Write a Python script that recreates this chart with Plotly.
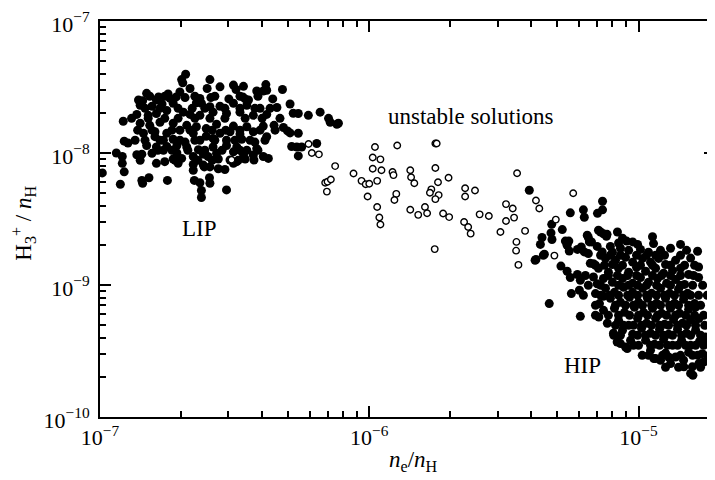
import plotly.graph_objects as go

# LIP (low ionization phase) solutions: n_e/n_H, H3+/n_H
lip_x = [2.08e-7, 2.01e-7, 2.03e-7, 2.56e-7, 4.13e-7, 3.13e-7, 3.41e-7, 2.79e-7, 2.16e-7, 2.50e-7,
         4.76e-7, 3.20e-7, 3.82e-7, 4.04e-7, 4.16e-7, 1.49e-7, 1.98e-7, 1.79e-7, 1.39e-7, 1.44e-7,
         1.65e-7, 1.62e-7, 1.82e-7, 1.92e-7, 2.07e-7, 2.35e-7, 2.58e-7, 3.01e-7, 3.39e-7, 3.46e-7,
         3.56e-7, 4.38e-7, 1.41e-7, 1.56e-7, 1.70e-7, 1.87e-7, 2.28e-7, 2.38e-7, 2.56e-7, 2.79e-7,
         3.13e-7, 3.51e-7, 3.93e-7, 4.54e-7, 5.08e-7, 5.22e-7, 5.45e-7, 5.94e-7, 6.57e-7, 1.37e-7,
         1.51e-7, 1.62e-7, 1.77e-7, 2.04e-7, 2.16e-7, 2.35e-7, 2.63e-7, 2.95e-7, 3.31e-7, 3.71e-7,
         4.16e-7, 7.06e-7, 7.16e-7, 7.58e-7, 7.68e-7, 1.22e-7, 1.41e-7, 1.53e-7, 1.67e-7, 1.87e-7,
         2.10e-7, 2.28e-7, 2.48e-7, 2.71e-7, 3.13e-7, 3.51e-7, 4.04e-7, 4.43e-7, 4.80e-7, 4.97e-7,
         5.08e-7, 1.45e-7, 1.60e-7, 1.77e-7, 1.98e-7, 2.22e-7, 2.48e-7, 2.79e-7, 3.04e-7, 3.31e-7,
         3.71e-7, 1.60e-7, 1.72e-7, 1.87e-7, 2.07e-7, 2.35e-7, 2.63e-7, 2.95e-7, 3.36e-7, 3.76e-7,
         4.16e-7, 1.23e-7, 1.27e-7, 1.35e-7, 1.49e-7, 1.62e-7, 1.77e-7, 1.93e-7, 2.10e-7, 2.32e-7,
         2.63e-7, 2.95e-7, 3.22e-7, 3.51e-7, 3.82e-7, 5.15e-7, 5.38e-7, 5.61e-7, 6.38e-7, 1.15e-7,
         1.37e-7, 1.43e-7, 1.56e-7, 1.72e-7, 1.93e-7, 2.42e-7, 2.71e-7, 3.13e-7, 3.41e-7, 3.71e-7,
         4.04e-7, 4.22e-7, 5.45e-7, 1.21e-7, 1.87e-7, 2.01e-7, 2.22e-7, 2.52e-7, 2.75e-7, 3.04e-7,
         3.46e-7, 3.73e-7, 1.21e-7, 1.62e-7, 1.74e-7, 1.95e-7, 2.22e-7, 2.42e-7, 2.56e-7, 2.75e-7,
         2.91e-7, 3.13e-7, 3.22e-7, 1.02e-7, 1.23e-7, 2.22e-7, 2.44e-7, 1.43e-7, 1.52e-7, 1.78e-7,
         2.24e-7, 2.35e-7, 2.55e-7, 2.56e-7, 1.19e-7, 1.44e-7, 2.38e-7, 2.95e-7, 2.38e-7, 5.45e-7]
lip_y = [3.95e-8, 3.6e-8, 3.4e-8, 3.6e-8, 3.3e-8, 3.27e-8, 3.2e-8, 3.17e-8, 3.08e-8, 3.08e-8,
         3.03e-8, 3.03e-8, 2.95e-8, 2.95e-8, 2.99e-8, 2.83e-8, 2.9e-8, 2.8e-8, 2.52e-8, 2.49e-8,
         2.66e-8, 2.52e-8, 2.59e-8, 2.66e-8, 2.63e-8, 2.59e-8, 2.63e-8, 2.57e-8, 2.66e-8, 2.57e-8,
         2.52e-8, 2.57e-8, 2.3e-8, 2.26e-8, 2.35e-8, 2.38e-8, 2.4e-8, 2.38e-8, 2.24e-8, 2.26e-8,
         2.38e-8, 2.3e-8, 2.18e-8, 2.21e-8, 2.35e-8, 2.0e-8, 1.99e-8, 1.93e-8, 2.04e-8, 1.96e-8,
         1.93e-8, 1.99e-8, 2.1e-8, 2.04e-8, 1.96e-8, 1.93e-8, 2.04e-8, 1.99e-8, 2.04e-8, 1.93e-8,
         1.96e-8, 1.83e-8, 1.71e-8, 1.65e-8, 1.68e-8, 1.74e-8, 1.68e-8, 1.62e-8, 1.71e-8, 1.68e-8,
         1.62e-8, 1.58e-8, 1.53e-8, 1.65e-8, 1.6e-8, 1.58e-8, 1.6e-8, 1.62e-8, 1.56e-8, 1.47e-8,
         1.42e-8, 1.41e-8, 1.45e-8, 1.41e-8, 1.49e-8, 1.41e-8, 1.34e-8, 1.41e-8, 1.45e-8, 1.39e-8,
         1.45e-8, 1.33e-8, 1.25e-8, 1.27e-8, 1.21e-8, 1.25e-8, 1.29e-8, 1.25e-8, 1.27e-8, 1.21e-8,
         1.33e-8, 1.23e-8, 1.19e-8, 1.25e-8, 1.14e-8, 1.11e-8, 1.12e-8, 1.14e-8, 1.11e-8, 1.06e-8,
         1.11e-8, 1.14e-8, 1.11e-8, 1.05e-8, 1.08e-8, 1.12e-8, 1.11e-8, 1.11e-8, 1.18e-8, 1.0e-8,
         9.7e-9, 9.8e-9, 9.95e-9, 1.05e-8, 1.0e-8, 9.8e-9, 9.95e-9, 1.02e-8, 9.8e-9, 9.65e-9,
         9.4e-9, 9.1e-9, 9.5e-9, 9.4e-9, 9.0e-9, 9.1e-9, 9.4e-9, 9.4e-9, 9.0e-9, 8.85e-9,
         9.0e-9, 8.85e-9, 8.35e-9, 8.35e-9, 8.6e-9, 8.35e-9, 8.2e-9, 8.1e-9, 7.85e-9, 7.6e-9,
         7.5e-9, 8.35e-9, 8.6e-9, 7.07e-9, 7.2e-9, 7.4e-9, 7.85e-9, 6.2e-9, 6.5e-9, 6.2e-9,
         6.2e-9, 5.95e-9, 6.5e-9, 5.9e-9, 5.8e-9, 5.9e-9, 5.2e-9, 5.25e-9, 4.6e-9, 1.41e-8]

# LIP dense core
lip_core_x = [1.53e-7, 1.74e-7, 2.25e-7, 2.67e-7, 3.31e-7, 3.86e-7,
              1.47e-7, 1.67e-7, 1.95e-7, 2.20e-7, 2.45e-7, 2.91e-7, 3.31e-7, 3.76e-7, 4.28e-7,
              1.31e-7, 1.51e-7, 1.74e-7, 1.95e-7, 2.25e-7, 2.56e-7, 2.91e-7, 3.46e-7, 4.00e-7, 4.66e-7,
              1.38e-7, 1.56e-7, 1.85e-7, 2.16e-7, 2.61e-7, 2.93e-7, 3.31e-7, 3.93e-7, 4.47e-7,
              1.47e-7, 1.67e-7, 1.98e-7, 2.25e-7, 2.67e-7, 3.17e-7, 3.61e-7, 4.10e-7,
              1.64e-7, 1.85e-7, 2.12e-7, 2.45e-7, 2.84e-7, 3.31e-7, 3.86e-7,
              1.41e-7, 1.90e-7, 2.31e-7, 2.61e-7, 3.26e-7]
lip_core_y = [2.69e-8] * 6 + [2.18e-8] * 9 + [1.83e-8] * 10 + [1.49e-8] * 9 + \
             [1.25e-8] * 8 + [1.05e-8] * 7 + [8.80e-9] * 5

# HIP (high ionization phase) solutions
hip_x = [3.93e-6, 5.58e-6, 6.24e-6, 7.04e-6, 7.35e-6, 7.35e-6, 6.29e-6, 4.76e-6, 5.21e-6, 4.73e-6,
         7.10e-6, 7.41e-6, 7.60e-6, 8.35e-6, 6.45e-6, 7.23e-6, 4.38e-6, 4.77e-6, 5.35e-6, 5.51e-6,
         6.57e-6, 9.03e-6, 9.51e-6, 1.127e-5, 1.137e-5, 1.432e-5, 8.43e-6, 9.92e-6, 4.32e-6, 7.02e-6,
         7.86e-6, 8.72e-6, 4.43e-6, 5.43e-6, 5.53e-6, 5.93e-6, 6.13e-6, 6.29e-6, 6.51e-6, 7.33e-6,
         8.0e-6, 8.57e-6, 9.19e-6, 1.017e-5, 1.089e-5, 1.207e-5, 1.315e-5, 1.508e-5, 1.657e-5, 4.47e-6,
         4.16e-6, 5.15e-6, 6.62e-6, 7.54e-6, 8.21e-6, 8.95e-6, 9.51e-6, 1.035e-5, 1.108e-5, 1.187e-5,
         1.26e-5, 1.373e-5, 1.561e-5, 8.0e-6, 5.43e-6, 5.93e-6, 7.10e-6, 7.73e-6, 8.43e-6, 9.19e-6,
         9.83e-6, 1.062e-5, 1.157e-5, 1.239e-5, 1.338e-5, 1.432e-5, 1.671e-5, 1.535e-5, 5.58e-6, 6.08e-6,
         6.80e-6, 7.02e-6, 7.41e-6, 8.0e-6, 8.72e-6, 9.51e-6, 1.017e-5, 1.089e-5, 1.177e-5, 1.271e-5,
         1.373e-5, 1.483e-5, 1.671e-5, 5.63e-6, 6.03e-6, 6.92e-6, 7.54e-6, 8.14e-6, 8.80e-6, 9.51e-6,
         1.035e-5, 1.118e-5, 1.207e-5, 1.304e-5, 1.408e-5, 1.521e-5, 1.671e-5, 1.80e-5, 4.66e-6, 7.16e-6,
         7.86e-6, 8.57e-6, 9.26e-6, 1.0e-5, 1.080e-5, 1.167e-5, 1.26e-5, 1.361e-5, 1.47e-5, 1.615e-5,
         7.41e-6, 7.41e-6, 8.14e-6, 8.87e-6, 9.66e-6, 1.044e-5, 1.127e-5, 1.218e-5, 1.315e-5, 1.42e-5,
         1.535e-5, 1.629e-5, 6.08e-6, 7.73e-6, 7.12e-6, 7.66e-6, 8.43e-6, 9.19e-6, 9.92e-6, 1.071e-5,
         1.157e-5, 1.249e-5, 1.349e-5, 1.457e-5, 1.561e-5, 1.675e-5, 1.76e-5, 8.07e-6, 8.72e-6, 9.51e-6,
         1.026e-5, 1.108e-5, 1.197e-5, 1.293e-5, 1.396e-5, 1.508e-5, 1.629e-5, 1.775e-5, 8.33e-6, 8.95e-6,
         1.0e-5, 1.062e-5, 1.147e-5, 1.239e-5, 1.338e-5, 1.445e-5, 1.561e-5, 1.686e-5, 1.82e-5, 1.88e-5,
         9.34e-6, 8.09e-6, 1.032e-5, 1.157e-5, 1.207e-5, 1.26e-5, 1.293e-5, 1.373e-5, 1.47e-5, 1.535e-5,
         1.657e-5, 1.745e-5, 1.108e-5, 9.08e-6, 1.584e-5, 1.592e-5, 1.561e-5, 1.474e-5, 1.675e-5, 1.80e-5,
         1.725e-5, 1.315e-5, 1.14e-5, 4.13e-6, 8.57e-6, 6.80e-6, 6.51e-6, 6.69e-6, 7.64e-6]
hip_y = [5.22e-9, 3.52e-9, 3.71e-9, 3.49e-9, 4.31e-9, 3.71e-9, 3.26e-9, 2.88e-9, 2.63e-9, 2.48e-9,
         2.60e-9, 2.44e-9, 2.34e-9, 2.52e-9, 2.38e-9, 2.52e-9, 2.29e-9, 2.21e-9, 2.15e-9, 2.15e-9,
         2.12e-9, 2.15e-9, 2.12e-9, 2.32e-9, 2.06e-9, 2.03e-9, 2.08e-9, 2.03e-9, 2.03e-9, 1.96e-9,
         1.96e-9, 2.26e-9, 1.68e-9, 2.0e-9, 1.81e-9, 1.86e-9, 1.94e-9, 1.78e-9, 1.73e-9, 1.78e-9,
         1.77e-9, 1.90e-9, 1.83e-9, 1.86e-9, 1.77e-9, 1.83e-9, 1.90e-9, 1.83e-9, 1.80e-9, 1.71e-9,
         1.56e-9, 1.39e-9, 1.46e-9, 1.59e-9, 1.54e-9, 1.62e-9, 1.49e-9, 1.59e-9, 1.49e-9, 1.59e-9,
         1.43e-9, 1.54e-9, 1.60e-9, 1.43e-9, 1.27e-9, 1.20e-9, 1.34e-9, 1.25e-9, 1.34e-9, 1.25e-9,
         1.36e-9, 1.27e-9, 1.34e-9, 1.23e-9, 1.29e-9, 1.34e-9, 1.37e-9, 1.20e-9, 1.14e-9, 1.085e-9,
         1.15e-9, 1.02e-9, 1.12e-9, 1.05e-9, 1.12e-9, 1.03e-9, 1.14e-9, 1.05e-9, 1.12e-9, 1.03e-9,
         1.10e-9, 1.01e-9, 1.14e-9, 8.61e-10, 9.12e-10, 8.61e-10, 9.44e-10, 8.80e-10, 9.61e-10, 8.80e-10,
         9.44e-10, 8.65e-10, 9.44e-10, 8.65e-10, 9.28e-10, 8.65e-10, 8.36e-10, 8.36e-10, 7.23e-10, 7.23e-10,
         7.93e-10, 7.40e-10, 8.07e-10, 7.40e-10, 7.93e-10, 7.27e-10, 7.93e-10, 7.27e-10, 7.79e-10, 7.23e-10,
         8.21e-10, 6.43e-10, 6.66e-10, 6.21e-10, 6.78e-10, 6.21e-10, 6.66e-10, 6.10e-10, 6.66e-10, 6.10e-10,
         6.54e-10, 6.81e-10, 5.79e-10, 5.89e-10, 5.72e-10, 5.13e-10, 5.40e-10, 4.95e-10, 5.59e-10, 5.13e-10,
         5.59e-10, 5.04e-10, 5.49e-10, 5.13e-10, 5.40e-10, 5.57e-10, 4.95e-10, 4.31e-10, 4.54e-10, 4.24e-10,
         4.70e-10, 4.31e-10, 4.62e-10, 4.24e-10, 4.62e-10, 4.31e-10, 4.54e-10, 4.04e-10, 3.70e-10, 3.39e-10,
         3.49e-10, 3.81e-10, 3.55e-10, 3.88e-10, 3.49e-10, 3.81e-10, 3.49e-10, 3.75e-10, 3.60e-10, 3.49e-10,
         3.81e-10, 4.16e-10, 2.93e-10, 2.77e-10, 2.69e-10, 3.05e-10, 2.85e-10, 2.85e-10, 2.69e-10, 3.09e-10,
         2.93e-10, 2.61e-10, 3.20e-10, 3.30e-10, 2.40e-10, 2.07e-10, 2.14e-10, 2.40e-10, 2.54e-10, 2.69e-10,
         3.02e-10, 2.54e-10, 2.77e-10, 1.54e-9, 3.60e-10, 1.45e-9, 2.29e-9, 2.12e-9, 2.42e-9]

# HIP dense core
hip_core_x = [7.23e-6, 7.86e-6, 8.57e-6, 9.83e-6, 1.071e-5, 1.157e-5, 1.249e-5, 1.432e-5,
              6.92e-6, 7.47e-6, 8.72e-6, 1.017e-5, 1.127e-5, 1.315e-5, 1.483e-5, 1.615e-5,
              6.35e-6, 7.73e-6, 8.35e-6, 9.11e-6, 9.83e-6, 1.127e-5, 1.218e-5, 1.315e-5, 1.432e-5, 1.601e-5,
              6.51e-6, 7.23e-6, 8.43e-6, 9.19e-6, 9.92e-6, 1.071e-5, 1.167e-5, 1.315e-5, 1.432e-5, 1.588e-5, 1.73e-5,
              6.24e-6, 7.23e-6, 7.80e-6, 8.43e-6, 9.11e-6, 9.92e-6, 1.071e-5, 1.167e-5, 1.249e-5, 1.361e-5, 1.47e-5, 1.561e-5,
              6.92e-6, 8.21e-6, 8.95e-6, 9.58e-6, 1.035e-5, 1.118e-5, 1.207e-5, 1.304e-5, 1.408e-5, 1.535e-5, 1.70e-5,
              6.92e-6, 8.43e-6, 9.26e-6, 1.0e-5, 1.080e-5, 1.177e-5, 1.271e-5, 1.373e-5, 1.496e-5, 1.615e-5, 1.745e-5,
              8.21e-6, 8.80e-6, 9.58e-6, 1.026e-5, 1.118e-5, 1.197e-5, 1.293e-5, 1.396e-5, 1.508e-5, 1.629e-5,
              8.57e-6, 9.92e-6, 1.062e-5, 1.157e-5, 1.239e-5, 1.338e-5, 1.445e-5, 1.561e-5, 1.70e-5,
              9.58e-6, 1.108e-5, 1.197e-5, 1.282e-5, 1.396e-5, 1.496e-5, 1.629e-5, 1.745e-5,
              1.089e-5, 1.228e-5, 1.432e-5, 1.588e-5, 1.82e-5,
              1.26e-5, 1.408e-5, 1.70e-5]
hip_core_y = [1.68e-9] * 8 + [1.41e-9] * 8 + [1.18e-9] * 10 + [9.95e-10] * 11 + \
             [8.36e-10] * 12 + [7.02e-10] * 11 + [5.90e-10] * 11 + [4.95e-10] * 10 + \
             [4.16e-10] * 9 + [3.49e-10] * 8 + [2.93e-10] * 5 + [2.38e-10] * 3

# Unstable solutions (open circles)
uns_x = [3.08e-7, 5.95e-7, 6.12e-7, 6.5e-7, 7.47e-7, 6.86e-7, 7.0e-7, 7.2e-7, 6.96e-7, 8.74e-7,
         9.36e-7, 9.7e-7, 1.0e-6, 9.86e-7, 1.05e-6, 1.03e-6, 1.10e-6, 1.03e-6, 1.11e-6, 1.07e-6,
         1.07e-6, 1.09e-6, 1.10e-6, 1.27e-6, 1.22e-6, 1.23e-6, 1.26e-6, 1.24e-6, 1.42e-6, 1.43e-6,
         1.47e-6, 1.42e-6, 1.52e-6, 1.61e-6, 1.64e-6, 1.76e-6, 1.78e-6, 1.76e-6, 1.80e-6, 1.70e-6,
         1.68e-6, 1.81e-6, 1.76e-6, 1.97e-6, 1.88e-6, 1.98e-6, 1.75e-6, 2.27e-6, 2.27e-6, 2.47e-6,
         2.25e-6, 2.33e-6, 2.38e-6, 2.57e-6, 2.78e-6, 3.54e-6, 3.22e-6, 3.41e-6, 3.45e-6, 3.22e-6,
         3.07e-6, 3.79e-6, 3.52e-6, 3.51e-6, 3.58e-6, 4.16e-6, 4.28e-6, 4.93e-6, 4.87e-6, 5.72e-6]
uns_y = [8.9e-9, 1.17e-8, 1.0e-8, 9.77e-9, 7.96e-9, 5.95e-9, 6.05e-9, 6.3e-9, 5.1e-9, 7.0e-9,
         6.15e-9, 5.8e-9, 5.85e-9, 4.68e-9, 1.11e-8, 9.25e-9, 8.95e-9, 7.6e-9, 7.4e-9, 6.15e-9,
         3.9e-9, 3.25e-9, 2.87e-9, 1.14e-8, 7.18e-9, 6.8e-9, 4.9e-9, 4.4e-9, 7.4e-9, 6.55e-9,
         5.9e-9, 3.72e-9, 3.4e-9, 3.9e-9, 3.5e-9, 1.18e-8, 1.18e-8, 7.7e-9, 6.0e-9, 5.3e-9,
         5.0e-9, 4.8e-9, 4.47e-9, 6.5e-9, 3.48e-9, 3.27e-9, 1.87e-9, 5.4e-9, 4.68e-9, 5.2e-9,
         3.0e-9, 2.75e-9, 2.45e-9, 3.43e-9, 3.33e-9, 7.03e-9, 4.1e-9, 3.8e-9, 3.24e-9, 3.05e-9,
         2.52e-9, 2.57e-9, 2.12e-9, 1.82e-9, 1.42e-9, 4.37e-9, 3.8e-9, 3.13e-9, 1.67e-9, 4.95e-9]

x_tickvals = [1e-7, 1e-6, 1e-5]
x_ticktext = ["10<sup>−7</sup>", "10<sup>−6</sup>", "10<sup>−5</sup>"]
y_tickvals = [1e-10, 1e-9, 1e-8, 1e-7]
y_ticktext = ["10<sup>−10</sup>", "10<sup>−9</sup>", "10<sup>−8</sup>", "10<sup>−7</sup>"]

FONT = "Liberation Serif"
XR = [-7, -4.716]
YR = [-10, -7]

fig = go.Figure()
fig.add_trace(go.Scatter(x=lip_x + lip_core_x, y=lip_y + lip_core_y, mode="markers",
                         marker=dict(size=9, color="black", line=dict(width=0)),
                         hoverinfo="skip"))
fig.add_trace(go.Scatter(x=hip_x + hip_core_x, y=hip_y + hip_core_y, mode="markers",
                         marker=dict(size=9, color="black", line=dict(width=0)),
                         hoverinfo="skip"))
fig.add_trace(go.Scatter(x=uns_x, y=uns_y, mode="markers",
                         marker=dict(size=6.5, color="white", line=dict(width=1.4, color="black")),
                         hoverinfo="skip"))

tickfont = dict(family=FONT, size=22, color="black")
minor = dict(ticks="inside", ticklen=6, tickwidth=2, tickcolor="#000000", dtick="D1",
             showgrid=False)
base = dict(type="log", showgrid=False, zeroline=False, ticks="inside", ticklen=11,
            tickwidth=2, tickcolor="#000000", tickmode="array", automargin=False,
            showline=True, linewidth=2, linecolor="#000000", mirror="ticks",
            tickfont=tickfont, minor=minor, layer="above traces",
            ticklabeloverflow="allow")

# The page body has an 8 px default margin, so the figure is 8 px smaller
# and its margins 8 px smaller to keep the plot area at the reference position.
fig.update_layout(
    template="simple_white",
    width=707, height=472,
    margin=dict(l=92, r=0, t=13, b=63),
    paper_bgcolor="white", plot_bgcolor="white",
    showlegend=False,
    font=dict(family=FONT, size=22, color="black"),
    xaxis=dict(range=XR, tickvals=x_tickvals, ticktext=x_ticktext, **base),
    yaxis=dict(range=YR, tickvals=y_tickvals, ticktext=y_ticktext,
               ticklabelshift=3, ticklabelstandoff=4, **base),
    annotations=[
        dict(text="LIP", x=0.1626, y=0.477, xref="paper", yref="paper", showarrow=False,
             xanchor="center", yanchor="middle", font=dict(family=FONT, size=23)),
        dict(text="unstable solutions", x=0.603, y=0.758, xref="paper", yref="paper",
             xanchor="center", yanchor="middle", showarrow=False,
             font=dict(family=FONT, size=23)),
        dict(text="HIP", x=0.784, y=0.131, xref="paper", yref="paper", showarrow=False,
             xanchor="center", yanchor="middle", font=dict(family=FONT, size=23)),
        dict(text="<i>n</i><sub>e</sub>/<i>n</i><sub>H</sub>", x=0.509, y=-0.112,
             xref="paper", yref="paper", xanchor="center", yanchor="middle",
             showarrow=False, font=dict(family=FONT, size=23)),
        dict(text="H<sub>3</sub><sup>+</sup> / <i>n</i><sub>H</sub>", x=-0.124, y=0.49,
             xref="paper", yref="paper", xanchor="center", yanchor="middle",
             showarrow=False, textangle=-90, font=dict(family=FONT, size=23)),
    ],
)

fig.write_html("out.html")
